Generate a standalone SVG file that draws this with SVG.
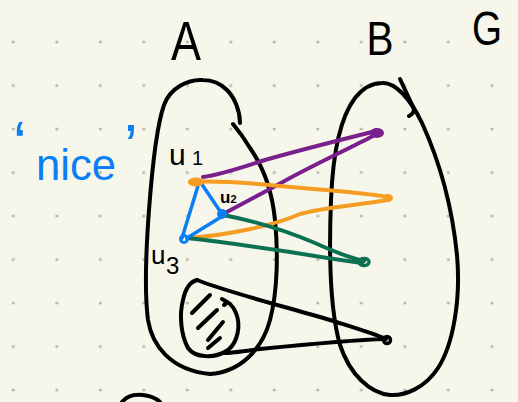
<svg xmlns="http://www.w3.org/2000/svg" width="518" height="402" viewBox="0 0 518 402">
<defs>
<pattern id="dots" x="-8.45" y="-23.25" width="43.5" height="43.5" patternUnits="userSpaceOnUse">
<circle cx="21.75" cy="21.75" r="1.6" fill="#b8b6ad"/>
</pattern>
<style>
.ink{fill:none;stroke:#000;stroke-width:4;stroke-linecap:round;stroke-linejoin:round}
.blue{fill:none;stroke:#0a7ff5;stroke-width:3.5;stroke-linecap:round;stroke-linejoin:round}
.purple{fill:none;stroke:#7a1f8e;stroke-width:4;stroke-linecap:round;stroke-linejoin:round}
.orange{fill:none;stroke:#f59c22;stroke-width:4;stroke-linecap:round;stroke-linejoin:round}
.green{fill:none;stroke:#0b7152;stroke-width:4;stroke-linecap:round;stroke-linejoin:round}
.lbl{font-family:"Liberation Sans",Arial,sans-serif;fill:#000}
</style>
</defs>
<rect width="518" height="402" fill="#f7f6ea"/>
<rect width="518" height="402" fill="url(#dots)"/>

<g id="setA">
<path class="ink" d="M240,123 C240,110 234,97 227,90 C220,83 212,80 203,80 C188,79 170,88 164,105 C157,125 152,170 149,210 C146,250 144,290 148,320 C152,345 170,370 210,374 C240,372 262,350 270,320 C278,290 278,250 275,220 C272,190 262,165 250,148 C244,138 238,130 233,124"/>
<text class="lbl" x="186" y="60" font-size="56" text-anchor="middle" textLength="30" lengthAdjust="spacingAndGlyphs">A</text>
</g>

<g id="setB">
<path class="ink" d="M382,83 C395,82 410,98 422,123 C438,158 452,205 457,255 C461,300 453,345 438,368 C425,388 405,396 390,395 C370,393 350,375 340,345 C330,310 329,250 331,200 C333,150 342,115 355,98 C363,88 372,83 382,83 Z"/>
<path class="ink" d="M400,79 C405,90 410,100 414,109 C414,113 411,115 409,116"/>
<text class="lbl" x="380" y="55" font-size="48" text-anchor="middle" textLength="27" lengthAdjust="spacingAndGlyphs">B</text>
</g>

<g id="graphG">
<text class="lbl" x="487" y="45" font-size="49" text-anchor="middle" textLength="30" lengthAdjust="spacingAndGlyphs">G</text>
</g>

<g id="nice">
<text font-family="'Liberation Sans',Arial,sans-serif" fill="#0a7ff5" font-size="44"><tspan x="13" y="164" font-size="62">‘</tspan><tspan x="36" y="180" textLength="80" lengthAdjust="spacingAndGlyphs">nice</tspan><tspan x="124" y="167" font-size="62">’</tspan></text>
</g>

<g id="subsetD">
<path class="ink" d="M197,280 C190,282 185,290 183,300 C179,315 181,335 188,348 C195,358 215,359 228,350 C238,342 241,325 236,313 C233,305 228,302 222,299 C226,301 227,304 224,305"/>
<path class="ink" d="M192,313 L210,295 M198,328 L217,310 M208,340 L223,322 M208,348 L220,338"/>
</g>

<g id="target">
<circle cx="387" cy="340" r="3.5" fill="none" stroke="#000" stroke-width="3.5"/>
</g>

<g id="connectors">
<path class="purple" d="M203,177 C220,175 240,168 265,160 C300,150 340,140 372,132"/>
<path class="purple" d="M373,136 C350,148 320,162 290,178 C265,192 240,205 221,215"/>
<ellipse cx="377" cy="133" rx="7" ry="5" fill="#7a1f8e"/>
<path class="orange" d="M190,182 C215,180 250,183 280,186 C320,190 360,192 388,197"/>
<path class="orange" d="M387,200 C360,205 325,207 300,214 C275,225 230,235 188,238"/>
<ellipse cx="388" cy="198" rx="5" ry="4" fill="#f59c22"/>
<path class="green" d="M223,215 C250,220 280,228 315,243 C335,252 350,258 364,261"/>
<path class="green" d="M362,263 C340,260 320,257 290,252 C250,246 215,241 187,238"/>
<ellipse cx="364" cy="262" rx="5" ry="3.5" fill="none" stroke="#0b7152" stroke-width="3.5"/>
<path class="ink" d="M197,280 C230,293 290,308 330,320 C355,328 375,334 386,339"/>
<path class="ink" d="M385,339 C350,340 300,345 260,349 C245,351 232,353 223,353"/>
<path class="blue" d="M201,183 L222,214 M198,186 L182,238 M187,238 L221,217"/>
</g>

<g id="u1">
<ellipse cx="196" cy="182" rx="8" ry="4.5" fill="#f59c22"/>
<text class="lbl" x="169" y="165" font-size="30">u<tspan x="192" font-size="20">1</tspan></text>
</g>
<g id="u2">
<circle cx="222" cy="214" r="3.5" fill="none" stroke="#0a7ff5" stroke-width="3"/>
<text class="lbl" x="220" y="203" font-size="17" font-weight="bold">u<tspan font-size="11">2</tspan></text>
</g>
<g id="u3">
<circle cx="184" cy="239" r="3.5" fill="none" stroke="#0a7ff5" stroke-width="3"/>
<text class="lbl" x="151" y="264" font-size="26">u<tspan x="166" y="274" font-size="24">3</tspan></text>
</g>

<g id="partial">
<path class="ink" d="M122,402 C126,397 133,394 143,395 C151,396 157,399 160,402"/>
</g>
</svg>
